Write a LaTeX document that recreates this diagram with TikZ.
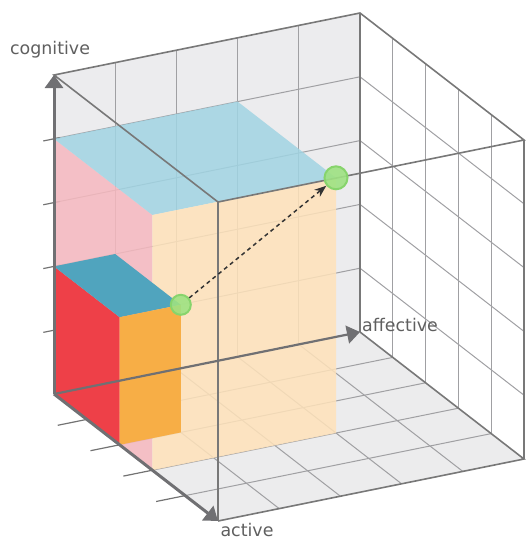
\documentclass[tikz,border=0pt]{standalone}
\usepackage{fontspec}
\setmainfont{DejaVu Sans}
\usetikzlibrary{arrows.meta}
\definecolor{wallgray}{RGB}{236,236,238}
\definecolor{floorgray}{RGB}{236,236,237}
\definecolor{gridc}{RGB}{160,160,163}
\definecolor{edgec}{RGB}{120,120,120}
\definecolor{axisc}{RGB}{112,112,115}
\definecolor{tickc}{RGB}{115,115,115}
\definecolor{bluef}{RGB}{161,212,227}
\definecolor{pinkf}{RGB}{246,184,191}
\definecolor{peachf}{RGB}{255,226,186}
\definecolor{redf}{RGB}{238,64,72}
\definecolor{orangef}{RGB}{247,174,70}
\definecolor{tealf}{RGB}{80,164,190}
\definecolor{dotf}{RGB}{158,226,130}
\definecolor{dotd}{RGB}{135,212,108}
\definecolor{txtc}{RGB}{95,95,95}
\tikzset{
  gridline/.style={draw=gridc, line width=1bp},
  tickline/.style={draw=tickc, line width=1.2bp},
  edgeline/.style={draw=edgec, line width=1.6bp},
  axisline/.style={draw=axisc, line width=3bp, -{Triangle[length=13bp,width=18bp]}},
  bigface/.style={fill opacity=0.85},
  dot/.style={circle, inner sep=0pt, fill=dotf, draw=dotd, line width=2bp, fill opacity=0.9},
  dasharrow/.style={draw=black!80, line width=1.5bp, dash pattern=on 4bp off 3.5bp, -{Stealth[length=12bp,width=9bp]}},
  lbl/.style={text=txtc, font=\fontsize{17.5}{20}\selectfont, inner sep=0pt}
}
\begin{document}
\begin{tikzpicture}
\useasboundingbox (0bp,0bp) rectangle (526bp,-542bp);
\begin{scope}[shift={(54bp,-394bp)}, x={(306bp,62bp)}, y={(164bp,-127bp)}, z={(0bp,319bp)}]
  % corners
  \coordinate (O) at (0,0,0);
  \coordinate (A) at (1,0,0);
  \coordinate (C) at (0,1,0);
  \coordinate (G) at (0,0,1);
  \coordinate (AC) at (1,1,0);
  \coordinate (AG) at (1,0,1);
  \coordinate (CG) at (0,1,1);
  \coordinate (ACG) at (1,1,1);
  % walls
  \fill[wallgray] (O) -- (A) -- (AG) -- (G) -- cycle;
  \fill[floorgray] (O) -- (A) -- (AC) -- (C) -- cycle;
  % grids
  \foreach \t in {0.2,0.4,0.6,0.8} {
    \draw[gridline] (\t,0,0) -- (\t,0,1);
    \draw[gridline] (0,0,\t) -- (1,0,\t);
    \draw[gridline] (\t,0,0) -- (\t,1,0);
    \draw[gridline] (0,\t,0) -- (1,\t,0);
    \draw[gridline] (1,\t,0) -- (1,\t,1);
    \draw[gridline] (1,0,\t) -- (1,1,\t);
    \draw[tickline] (-0.035,0,\t) -- (0.02,0,\t);
    \draw[tickline] (-0.095,\t,0) -- (0,\t,0);
  }
  % large box
  \fill[pinkf, bigface] (0,0,0) -- (0,0.6,0) -- (0,0.6,0.8) -- (0,0,0.8) -- cycle;
  \fill[bluef, bigface] (0,0,0.8) -- (0.6,0,0.8) -- (0.6,0.6,0.8) -- (0,0.6,0.8) -- cycle;
  \fill[peachf, bigface] (0,0.6,0) -- (0.6,0.6,0) -- (0.6,0.6,0.8) -- (0,0.6,0.8) -- cycle;
  % small box
  \fill[redf] (0,0,0) -- (0,0.4,0) -- (0,0.4,0.4) -- (0,0,0.4) -- cycle;
  \fill[tealf] (0,0,0.4) -- (0.2,0,0.4) -- (0.2,0.4,0.4) -- (0,0.4,0.4) -- cycle;
  \fill[orangef] (0,0.4,0) -- (0.2,0.4,0) -- (0.2,0.4,0.4) -- (0,0.4,0.4) -- cycle;
  % cube edges
  \draw[edgeline] (G) -- (AG) -- (ACG) -- (CG) -- cycle;
  \draw[edgeline] (AG) -- (A);
  \draw[edgeline] (ACG) -- (AC);
  \draw[edgeline] (CG) -- (C);
  \draw[edgeline] (C) -- (AC) -- (A);
  % axes
  \draw[axisline] (O) -- (G);
  \draw[axisline, line width=2.2bp] (O) -- (A);
  \draw[axisline] (O) -- (C);
  % points
  \node[dot, minimum size=20bp] (P) at (0.2,0.4,0.4) {};
  \node[dot, minimum size=23bp] (Q) at (0.6,0.6,0.8) {};
  \draw[dasharrow] (P) -- (Q);
\end{scope}
\node[lbl] (cog) at (50bp,-50bp) {cognitive};
\node[lbl, anchor=west] (aff) at (362bp,-325bp) {affective};
\node[lbl] (act) at (247bp,-530bp) {active};
\end{tikzpicture}
\end{document}
